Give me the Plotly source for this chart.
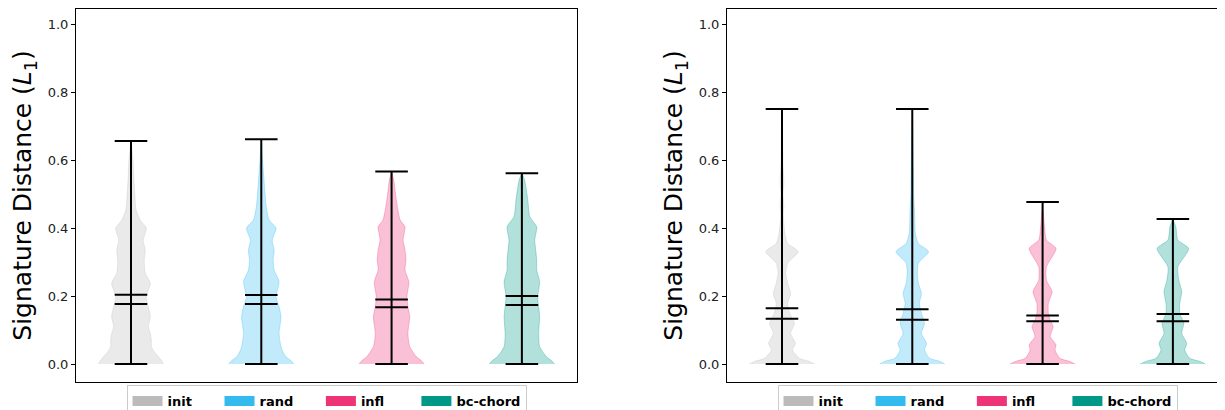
import plotly.graph_objects as go

# ---------------- data ----------------
categories = ["init", "rand", "infl", "bc-chord"]
colors = ["#BBBBBB", "#33BBEE", "#EE3377", "#009988"]
positions = [1, 2, 3, 4]

# left panel summary statistics
left_min = [0.0, 0.0, 0.0, 0.0]
left_max = [0.657, 0.662, 0.567, 0.562]
left_mean = [0.204, 0.203, 0.190, 0.200]
left_median = [0.177, 0.177, 0.167, 0.174]

# right panel summary statistics
right_min = [0.0, 0.0, 0.0, 0.0]
right_max = [0.751, 0.751, 0.477, 0.427]
right_mean = [0.164, 0.161, 0.143, 0.147]
right_median = [0.133, 0.130, 0.126, 0.126]

# density profiles (value levels and relative density)
left_init_y = [0, 0.01, 0.021, 0.035, 0.051, 0.07, 0.09, 0.11, 0.139, 0.169, 0.198, 0.238,
               0.267, 0.306, 0.336, 0.365, 0.4, 0.424, 0.454, 0.503, 0.552, 0.6, 0.657]
left_init_d = [32, 30, 27, 23, 20, 20, 19, 17, 19, 17, 15, 19,
               14, 13, 14, 12, 15, 9, 5, 3.7, 2.7, 2, 0]

left_rand_y = [0, 0.01, 0.021, 0.035, 0.051, 0.09, 0.139, 0.169, 0.198, 0.243, 0.277, 0.306,
               0.336, 0.365, 0.4, 0.424, 0.464, 0.533, 0.6, 0.662]
left_rand_d = [33, 30, 25, 22, 20, 18, 20, 18, 15, 18, 13, 12,
               13, 11, 15, 8, 5, 3, 1.3, 0]

left_infl_y = [0, 0.01, 0.021, 0.051, 0.09, 0.139, 0.169, 0.198, 0.242, 0.277, 0.306, 0.336,
               0.365, 0.404, 0.424, 0.464, 0.503, 0.542, 0.567]
left_infl_d = [34, 31, 26, 19, 17, 19, 17, 16, 18, 14, 15, 14,
               12, 14, 9, 6, 4, 2.3, 0]

left_bc_y = [0, 0.01, 0.021, 0.051, 0.09, 0.139, 0.169, 0.198, 0.242, 0.277, 0.306, 0.336,
             0.365, 0.404, 0.434, 0.483, 0.523, 0.545, 0.562]
left_bc_d = [33, 30, 25, 18, 17, 18, 17, 16, 18, 15, 15, 14,
             13, 15, 8, 6, 4, 2.5, 0]

right_init_y = [0, 0.008, 0.017, 0.041, 0.061, 0.09, 0.12, 0.149, 0.179, 0.208, 0.238, 0.267,
                0.297, 0.331, 0.355, 0.385, 0.444, 0.463, 0.503, 0.532, 0.59, 0.69, 0.751]
right_init_d = [34, 28, 18, 11, 14, 9, 13, 8, 6, 9, 6, 4,
                6, 17, 6, 3, 1.3, 2, 1, 2, 1, 0.5, 0]

right_rand_y = [0, 0.008, 0.017, 0.041, 0.061, 0.09, 0.12, 0.149, 0.179, 0.208, 0.238, 0.267,
                0.297, 0.331, 0.355, 0.385, 0.444, 0.463, 0.503, 0.532, 0.59, 0.69, 0.751]
right_rand_d = [32, 27, 17, 12, 14, 9, 12, 9, 7, 9, 6, 5,
                6, 16, 6, 3, 2.3, 2, 1.3, 1.3, 1, 0.5, 0]

right_infl_y = [0, 0.008, 0.017, 0.041, 0.056, 0.081, 0.11, 0.129, 0.149, 0.179, 0.213, 0.247,
                0.286, 0.34, 0.365, 0.404, 0.477]
right_infl_d = [34, 28, 18, 13, 14, 8, 11, 8, 6, 6, 10, 4,
                4, 14, 4, 2, 0]

right_bc_y = [0, 0.008, 0.017, 0.041, 0.061, 0.09, 0.12, 0.149, 0.179, 0.213, 0.247, 0.286,
              0.34, 0.365, 0.404, 0.427]
right_bc_d = [33, 27, 17, 12, 14, 9, 11, 7, 7, 9, 6, 5,
              16, 5, 3, 0]

left_profiles = [(left_init_y, left_init_d), (left_rand_y, left_rand_d),
                 (left_infl_y, left_infl_d), (left_bc_y, left_bc_d)]
right_profiles = [(right_init_y, right_init_d), (right_rand_y, right_rand_d),
                  (right_infl_y, right_infl_d), (right_bc_y, right_bc_d)]

VIOLIN_WIDTH = 0.5
CAP_WIDTH = 0.25
FONT = "DejaVu Sans"
NBSP = "\u00a0"
legend_pad = [5, 5, 6, 0]  # spacing after each legend label (column spacing)


def rgba(hex_color, a):
    h = hex_color.lstrip("#")
    r, g, b = int(h[0:2], 16), int(h[2:4], 16), int(h[4:6], 16)
    return f"rgba({r},{g},{b},{a})"


fig = go.Figure()


def add_panel(xa, ya, profiles, mins, maxs, means, medians, legend_name):
    for i, (ys, ds) in enumerate(profiles):
        pos = positions[i]
        m = max(ds)
        half = [d / m * VIOLIN_WIDTH / 2 for d in ds]
        xs = [pos + h for h in half] + [pos - h for h in reversed(half)]
        yy = list(ys) + list(reversed(ys))
        fig.add_trace(go.Scatter(
            x=xs, y=yy, mode="lines", fill="toself",
            fillcolor=rgba(colors[i], 0.3),
            line=dict(color=rgba(colors[i], 0.3), width=1, shape="spline", smoothing=0.6),
            xaxis=xa, yaxis=ya, showlegend=False, hoverinfo="skip"))
    # bars and caps
    lx, ly = [], []
    for i in range(len(categories)):
        pos = positions[i]
        lx += [pos, pos, None]
        ly += [mins[i], maxs[i], None]
        for v in (mins[i], maxs[i], means[i], medians[i]):
            lx += [pos - CAP_WIDTH / 2, pos + CAP_WIDTH / 2, None]
            ly += [v, v, None]
    fig.add_trace(go.Scatter(x=lx, y=ly, mode="lines", line=dict(color="black", width=2),
                             xaxis=xa, yaxis=ya, showlegend=False, hoverinfo="skip"))
    # legend entries
    for i, cat in enumerate(categories):
        fig.add_trace(go.Scatter(x=[None], y=[None], mode="lines",
                                 line=dict(color=colors[i], width=12),
                                 name=cat + NBSP * legend_pad[i],
                                 xaxis=xa, yaxis=ya, legend=legend_name))


add_panel("x", "y", left_profiles, left_min, left_max, left_mean, left_median, "legend")
add_panel("x2", "y2", right_profiles, right_min, right_max, right_mean, right_median, "legend2")

# the page has an 8px body margin, so the figure is placed at (8, 8) in the window
OFF = 8
W, H = 1225 - OFF, 410 - OFF
L1, R1 = 76 - OFF, 577 - OFF
L2, R2 = 727 - OFF, 1228 - OFF
TOP, BOT = 9 - OFF, 382 - OFF
Y0_PX, PX_PER_UNIT = 364 - OFF, 339.5
y_range = [(Y0_PX - BOT) / PX_PER_UNIT, (Y0_PX - TOP) / PX_PER_UNIT]

ax_common = dict(showgrid=False, zeroline=False, showline=True, linecolor="black", linewidth=1,
                 automargin=False)
yax = dict(ax_common, range=y_range, tickvals=[0, 0.2, 0.4, 0.6, 0.8, 1.0],
           tickformat=".1f", ticks="outside", ticklen=4, tickcolor="black",
           tickfont=dict(family=FONT, size=13, color="#222"),
           title=dict(text="Signature Distance (<i>L</i><sub>1</sub>)",
                      font=dict(family=FONT, size=25, color="black"), standoff=8))

leg_common = dict(orientation="h", yanchor="top", y=-3 / (BOT - TOP), xanchor="center",
                  bordercolor="#cccccc", borderwidth=1, bgcolor="white",
                  font=dict(family=FONT, size=13, color="black", weight="bold"))

fig.update_layout(
    width=W, height=H,
    margin=dict(l=0, r=0, t=TOP, b=H - BOT, autoexpand=False),
    plot_bgcolor="white", paper_bgcolor="white",
    xaxis=dict(ax_common, domain=[L1 / W, R1 / W], range=[0.578, 4.423], mirror=True,
               showticklabels=False, ticks=""),
    yaxis=dict(yax, mirror=True),
    xaxis2=dict(ax_common, domain=[L2 / W, 1.0], range=[0.578, 0.578 + (W - L2) / 130.3],
                mirror=True, showticklabels=False, ticks="", anchor="y2"),
    yaxis2=dict(yax, mirror=False, anchor="x2"),
    legend=dict(leg_common, x=(L1 + R1) / 2 / W),
    legend2=dict(leg_common, x=(L2 + R2) / 2 / W),
)

fig.write_html("out.html")
